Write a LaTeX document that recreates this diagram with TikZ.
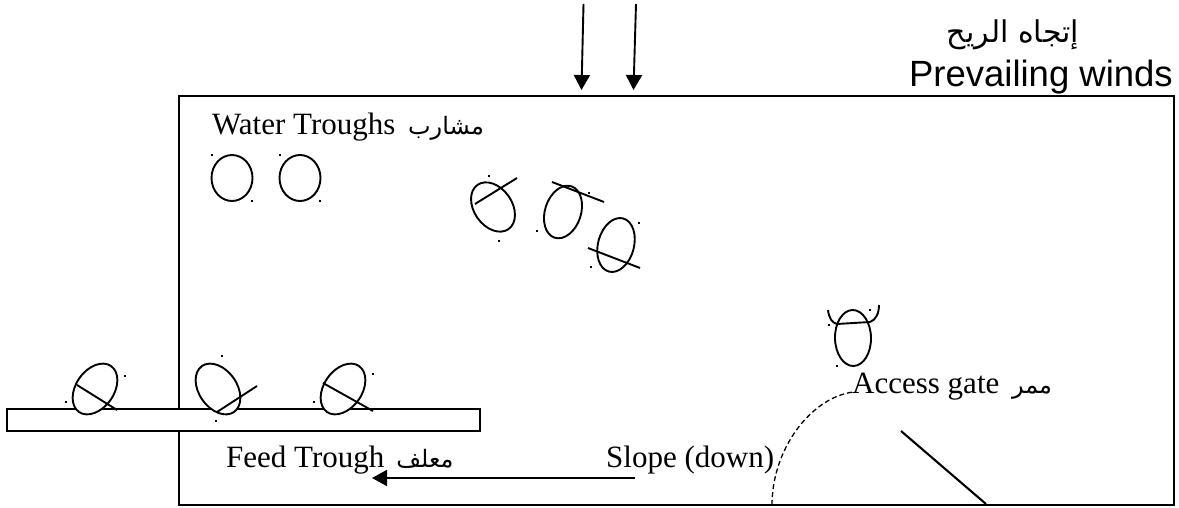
\documentclass[tikz,border=0pt]{standalone}
\usepackage{fontspec}
\setmainfont{Liberation Serif}
\setsansfont{Liberation Sans}
\newfontfamily\arabicfont[Script=Arabic]{DejaVu Sans}
\TeXXeTstate=1
\usetikzlibrary{arrows.meta}
\tikzset{
  line/.style={draw=black,line width=2.1pt},
  thinline/.style={draw=black,line width=1.9pt},
  windarrow/.style={thinline,-{Triangle[length=15pt,width=16pt]}},
  lbl/.style={inner sep=0pt,anchor=base west,font=\fontsize{31}{34}\selectfont},
  arlbl/.style={inner sep=0pt,anchor=base,font=\fontsize{24}{28}\selectfont\arabicfont},
  windlbl/.style={inner sep=0pt,anchor=base east,font=\sffamily\fontsize{36.5}{40}\selectfont},
  speck/.style={fill=black,draw=none,inner sep=0pt,minimum size=2.6pt,rectangle},
  troughbody/.style={line,fill=white},
}
\newcommand{\cow}[5]{% x, y, angle, rx, ry
  \draw[thinline,fill=white,shift={(#1,-#2)},rotate=#3] (0,0) ellipse (#4 and #5);}
\newcommand{\speckat}[2]{\node[speck] at (#1,-#2) {};}
\begin{document}
\begin{tikzpicture}[x=1pt,y=1pt]
\useasboundingbox (0,0) rectangle (1179,-508);
\fill[white] (0,0) rectangle (1179,-508);
% pen
\node[draw=none,inner sep=0pt] (penNW) at (179,-96) {};
\node[draw=none,inner sep=0pt] (penSE) at (1174,-505) {};
\draw[line] (penNW.center) rectangle (penSE.center);
% feed trough
\draw[troughbody] (7,-409) rectangle (480,-431);
% wind arrows
\coordinate (w1a) at (583.5,-4); \coordinate (w1b) at (581.5,-90);
\coordinate (w2a) at (636,-4); \coordinate (w2b) at (633.5,-90);
\draw[windarrow] (w1a) -- (w1b);
\draw[windarrow] (w2a) -- (w2b);
% slope arrow
\coordinate (s1) at (635,-478); \coordinate (s2) at (372,-478);
\draw[windarrow] (s1) -- (s2);
% upright animals
\cow{232}{178}{0}{20.5}{23}
\cow{300}{178}{0}{20.5}{23}
\speckat{212}{155}\speckat{252}{201}\speckat{280}{155}\speckat{320}{201}
% drinking group
\cow{493}{207}{35}{19}{27}
\cow{563}{212}{-18}{18}{27}
\cow{616}{245}{-15}{18}{27.5}
\draw[thinline] (475,-204) -- (517,-178);
\draw[thinline] (552,-182) -- (604,-202);
\draw[thinline] (588,-248) -- (640,-268);
\speckat{489}{176}\speckat{499}{241}\speckat{589}{193}\speckat{537}{231}\speckat{639}{223}\speckat{591}{267}
% feeding group
\cow{95}{389}{-35}{19}{28}
\cow{218}{389}{35}{19}{28}
\cow{343}{389}{-35}{19}{28}
\draw[thinline] (77,-385) -- (117,-410);
\draw[thinline] (217,-412) -- (257,-386);
\draw[thinline] (323,-383) -- (373,-411);
\speckat{125}{376}\speckat{66}{402}\speckat{222}{356}\speckat{216}{421}\speckat{373}{374}\speckat{314}{402}
% animal at gate
\cow{853}{338}{1}{18}{28}
\draw[thinline] (837,-324) -- (870,-322);
\draw[thinline] (828,-310) .. controls (829,-318) and (832,-323) .. (837,-324);
\draw[thinline] (870,-322) .. controls (876,-320) and (879,-313) .. (879,-305);
\speckat{870}{310}\speckat{829}{325}\speckat{837}{366}
% gate
\coordinate (g1) at (901,-431); \coordinate (g2) at (986,-504);
\draw[line] (g1) -- (g2);
\coordinate (d1) at (772,-505); \coordinate (d2) at (853,-392);
\draw[black,line width=1.3pt,dash pattern=on 5pt off 3pt] (d1) .. controls (772,-450) and (810,-398) .. (d2);
% labels
\node[lbl] (water) at (212,-135) {Water Troughs};
\node[arlbl] (waterar) at (446,-135) {\beginR مشارب\endR};
\node[lbl] (feed) at (226,-467) {Feed Trough};
\node[arlbl] (feedar) at (425,-467) {\beginR معلف\endR};
\node[lbl] (slope) at (606,-467) {Slope (down)};
\node[lbl] (access) at (852,-393) {Access gate};
\node[arlbl] (accessar) at (1032,-393) {\beginR ممر\endR};
\node[windlbl] (wind) at (1173,-87) {Prevailing winds};
\node[inner sep=0pt,anchor=base,font=\fontsize{30}{34}\selectfont\arabicfont] (windar) at (1013,-43) {\beginR إتجاه الريح\endR};
\end{tikzpicture}
\end{document}
